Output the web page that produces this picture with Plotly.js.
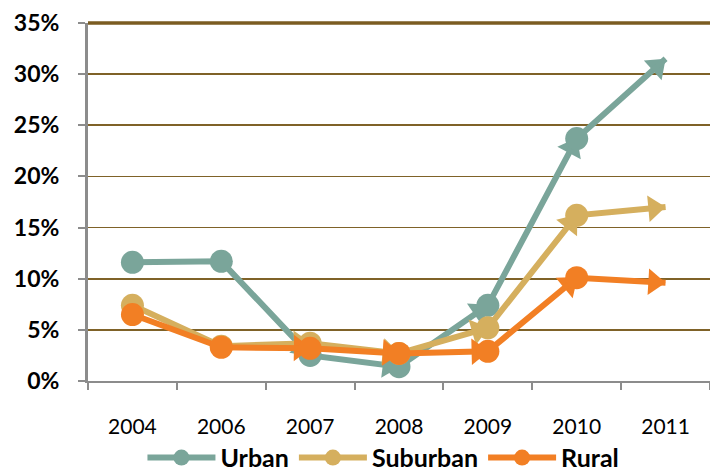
<!DOCTYPE html>
<html>
<head>
<meta charset="utf-8">
<script src="https://cdn.plot.ly/plotly-3.0.1.min.js"></script>
<style>html,body{margin:0;padding:0;background:#fff;}#chart{width:710px;height:472px;}</style>
</head>
<body>
<div id="chart"></div>
<script>
const years = ['2004', '2006', '2007', '2008', '2009', '2010', '2011'];
const urban = [0.116, 0.117, 0.025, 0.014, 0.074, 0.237, 0.315];
const suburban = [0.074, 0.034, 0.037, 0.027, 0.052, 0.162, 0.170];
const rural = [0.065, 0.033, 0.032, 0.027, 0.029, 0.101, 0.096];

const seriesNames = ['Urban', 'Suburban', 'Rural'];
const seriesValues = [urban, suburban, rural];
const seriesColors = ['#7aa59a', '#d5af5e', '#f27f24'];

const circleSize = 23;
const triSize = 23;
const traces = [];
seriesValues.forEach((vals, i) => {
  const n = vals.length;
  // arrow heads at the end of every segment
  traces.push({
    type: 'scatter', mode: 'markers',
    x: years.slice(1), y: vals.slice(1),
    marker: {
      symbol: 'triangle-up', size: triSize, color: seriesColors[i], opacity: 1,
      line: { width: 0 },
      angleref: 'previous',
      standoff: vals.slice(1).map((v, k) => k === n - 2 ? triSize / 2 : circleSize / 2 - 1)
    },
    showlegend: false, hoverinfo: 'skip', cliponaxis: false
  });
  traces.push({
    type: 'scatter', mode: 'lines+markers', name: seriesNames[i],
    x: years, y: vals,
    line: { color: seriesColors[i], width: 6 },
    marker: {
      symbol: 'circle', color: seriesColors[i], opacity: 1,
      line: { width: 0 },
      size: vals.map((v, k) => k === n - 1 ? 0 : circleSize)
    },
    cliponaxis: false
  });
});

const layout = {
  width: 710, height: 472,
  margin: { l: 88, r: 0, t: 23, b: 91, autoexpand: false },
  paper_bgcolor: '#ffffff', plot_bgcolor: '#ffffff',
  font: { family: 'Lato, "Open Sans", sans-serif', color: '#000' },
  xaxis: {
    type: 'category', categoryarray: years, range: [-0.5, 6.5],
    tickson: 'boundaries', ticks: 'outside', ticklen: 7, tickwidth: 2, tickcolor: '#8c8c8c',
    showline: true, linecolor: '#8c8c8c', linewidth: 2,
    showgrid: false, zeroline: false,
    tickfont: { family: 'Lato, sans-serif', size: 21, color: '#000' },
    ticklabelstandoff: 26, fixedrange: true
  },
  yaxis: {
    range: [0, 0.35], dtick: 0.05, tick0: 0, tickformat: '.0%',
    ticks: 'outside', ticklen: 7, tickwidth: 2, tickcolor: '#8c8c8c',
    showline: true, linecolor: '#8c8c8c', linewidth: 3,
    showgrid: true, gridcolor: '#7f6228', gridwidth: 1.8,
    zeroline: false,
    tickfont: { family: 'Lato, sans-serif', size: 23, color: '#000', weight: 'bold' },
    ticklabelstandoff: 14, fixedrange: true
  },
  shapes: [{
    type: 'line', xref: 'paper', yref: 'paper', x0: 0, x1: 1, y0: 1, y1: 1,
    line: { color: '#7b5c22', width: 3.5 }, layer: 'below'
  }],
  legend: {
    orientation: 'h', x: 0.475, xanchor: 'center',
    yref: 'container', y: 0.03, yanchor: 'middle',
    font: { family: 'Lato, sans-serif', size: 25, color: '#000', weight: 'bold' },
    itemwidth: 68, bgcolor: 'rgba(0,0,0,0)'
  },
  showlegend: true
};

Plotly.newPlot('chart', traces, layout, { displayModeBar: false, staticPlot: true });
</script>
</body>
</html>
